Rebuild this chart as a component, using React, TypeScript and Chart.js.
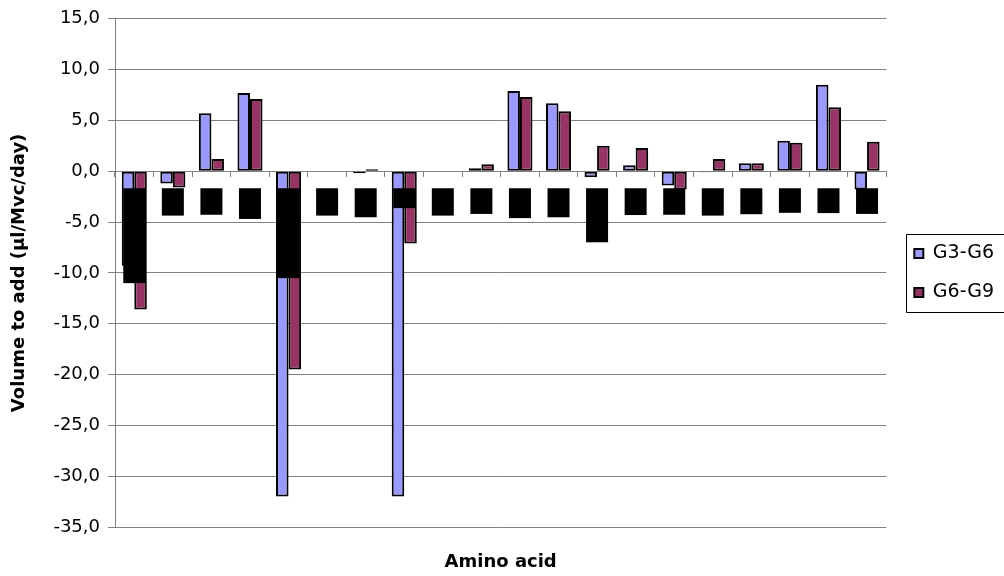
import { useEffect, useRef } from 'react';
import { Chart, registerables } from 'chart.js';

Chart.register(...registerables);

// Category labels (amino acids) – rendered as rotated labels on black backdrops
const categories = [
  'Glutamic acid', 'Ser', 'Gly', 'Phe', 'Aspartic acid', 'Arg', 'Met', 'Ile', 'Gln', 'Ala',
  'Asn', 'Leu', 'Cystine', 'Lys', 'Thr', 'Pro', 'Trp', 'Val', 'Tyr', 'His',
];

const seriesNames = ['G3-G6', 'G6-G9'];

const g3g6Values = [
  -9.3, -1.2, 5.7, 7.7, -32.0, 0, -0.2, -32.0, 0, 0.3,
  7.9, 6.7, -0.6, 0.6, -1.4, -0.1, 0.8, 3.0, 8.5, -1.8,
];

const g6g9Values = [
  -13.6, -1.6, 1.2, 7.1, -19.5, 0, 0.2, -7.1, 0, 0.7,
  7.3, 5.9, 2.5, 2.3, -1.8, 1.2, 0.8, 2.8, 6.3, 2.9,
];

const yTickValues = [15, 10, 5, 0, -5, -10, -15, -20, -25, -30, -35];

const xTitle = 'Amino acid';
const yTitle = 'Volume to add (µl/Mvc/day)';

const GRID = '#808080';
const FONT = 'DejaVu Sans';

const legendBorder = {
  id: 'legendBorder',
  afterDraw(chart: any) {
    const lg = chart.legend;
    if (!lg || !lg.legendHitBoxes || !lg.legendHitBoxes.length) return;
    const hb = lg.legendHitBoxes;
    const ctx = chart.ctx;
    const x = Math.round(hb[0].left - 8) + 0.5;
    const y = Math.round(hb[0].top - 10) + 0.5;
    const last = hb[hb.length - 1];
    const y2 = Math.round(last.top + last.height + 10) + 0.5;
    ctx.save();
    ctx.strokeStyle = '#000';
    ctx.lineWidth = 1;
    ctx.beginPath();
    ctx.moveTo(chart.width + 5, y);
    ctx.lineTo(x, y);
    ctx.lineTo(x, y2);
    ctx.lineTo(chart.width + 5, y2);
    ctx.stroke();
    ctx.restore();
  },
};

export default function App() {
  const ref = useRef<HTMLCanvasElement>(null);

  useEffect(() => {
    if (!ref.current) return;
    const chart = new Chart(ref.current, {
      type: 'bar',
      data: {
        labels: categories,
        datasets: [
          {
            label: seriesNames[0],
            data: g3g6Values,
            backgroundColor: '#9999FF',
            borderColor: '#000000',
            borderWidth: 2,
            borderSkipped: false,
          },
          {
            label: seriesNames[1],
            data: g6g9Values,
            backgroundColor: '#993366',
            borderColor: '#000000',
            borderWidth: 2,
            borderSkipped: false,
          },
        ],
      },
      options: {
        responsive: false,
        animation: false,
        devicePixelRatio: 1,
        layout: { padding: { top: 17, left: 0, right: 0, bottom: 0 } },
        datasets: {
          bar: { categoryPercentage: 0.65, barPercentage: 1.0 },
        },
        plugins: {
          tooltip: { enabled: false },
          title: { display: false },
          legend: {
            position: 'right',
            align: 'center',
            fullSize: false,
            labels: {
              boxWidth: 9,
              boxHeight: 9,
              padding: 20,
              color: '#000',
              font: { family: FONT, size: 19 },
            },
          },
        },
        scales: {
          x: {
            type: 'category',
            position: { y: 0 },
            grid: {
              display: true,
              drawOnChartArea: false,
              drawTicks: true,
              tickLength: 5,
              color: GRID,
              offset: true,
            },
            border: { display: true, color: GRID },
            ticks: {
              autoSkip: false,
              minRotation: 90,
              maxRotation: 90,
              padding: 14,
              z: 1,
              showLabelBackdrop: true,
              backdropColor: '#000000',
              backdropPadding: 2,
              color: '#000000',
              labelOffset: -9,
              font: { family: 'Liberation Sans', size: 15 },
            },
          },
          x2: {
            type: 'category',
            position: 'bottom',
            grid: { display: false },
            border: { display: false },
            ticks: { display: false },
            title: {
              display: true,
              text: xTitle,
              color: '#000',
              font: { family: FONT, size: 18, weight: 'bold' },
              padding: { top: 0, bottom: 3 },
            },
            afterFit: (s: any) => {
              s.height = 49;
            },
          },
          y: {
            type: 'linear',
            min: -35,
            max: 15,
            afterBuildTicks: (s: any) => {
              s.ticks = yTickValues.map((v) => ({ value: v }));
            },
            grid: {
              color: GRID,
              tickLength: 7,
              drawTicks: true,
            },
            border: { display: true, color: GRID },
            ticks: {
              padding: 8,
              color: '#000',
              font: { family: FONT, size: 18 },
              callback: (v: any) => Number(v).toFixed(1).replace('.', ','),
            },
            title: {
              display: true,
              text: yTitle,
              color: '#000',
              font: { family: FONT, size: 18, weight: 'bold' },
              padding: { top: 9, bottom: 0 },
            },
            afterFit: (s: any) => {
              s.width = 115;
            },
          },
          spacer: {
            type: 'linear',
            position: 'right',
            display: true,
            grid: { display: false },
            border: { display: false },
            ticks: { display: false },
            afterFit: (s: any) => {
              s.width = 8;
            },
          },
        },
      },
      plugins: [legendBorder],
    });
    return () => chart.destroy();
  }, []);

  return (
    <div style={{ position: 'absolute', left: 0, top: 0, width: 1004, height: 576, background: '#fff' }}>
      <canvas ref={ref} width={1004} height={576} style={{ display: 'block' }} />
    </div>
  );
}
